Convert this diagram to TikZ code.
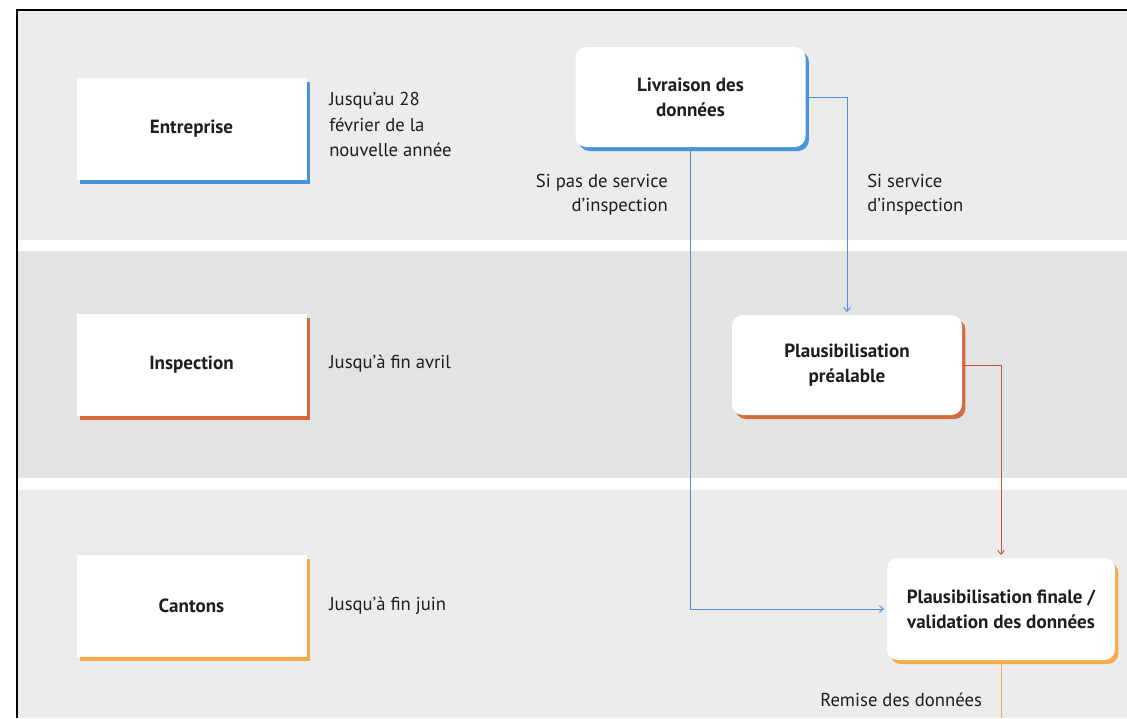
\documentclass[tikz,border=0pt]{standalone}
\usepackage{fontspec}
\setmainfont{PT Sans}
\usetikzlibrary{arrows.meta,shadows}
\definecolor{bandA}{HTML}{EBECEB}
\definecolor{bandB}{HTML}{E2E3E3}
\definecolor{cblue}{HTML}{4A92DC}
\definecolor{cred}{HTML}{D56A3C}
\definecolor{credline}{HTML}{CF4F45}
\definecolor{corange}{HTML}{F7AA48}
\definecolor{ink}{HTML}{1E1E1E}
\begin{document}
\begin{tikzpicture}[x=0.75pt,y=-0.75pt,
  every node/.style={text=ink,font=\fontsize{14}{19.2}\selectfont},
  lanebox/.style={fill=white,minimum width=172.5pt,minimum height=76.5pt,font=\fontsize{14.3}{18.75}\selectfont\bfseries,
    drop shadow={shadow xshift=2.5pt,shadow yshift=-3pt,opacity=1,fill=#1}},
  stepbox/.style={fill=white,rounded corners=8pt,minimum width=172.5pt,minimum height=75pt,align=center,
    font=\fontsize{14.3}{18.75}\selectfont\bfseries,
    drop shadow={shadow xshift=2.5pt,shadow yshift=-3pt,opacity=1,fill=#1}},
  note/.style={align=left,anchor=north west,inner sep=0pt},
  conn/.style={draw=#1,line width=0.7pt,-{Straight Barb[length=3pt,width=5pt]},shorten >=2pt},
]
\useasboundingbox (0,0) rectangle (1127,718);
\fill[white] (0,0) rectangle (1127,718);
% bands
\fill[bandA] (17,10) rectangle (1127,240);
\fill[bandB] (17,251) rectangle (1127,478);
\fill[bandA] (17,490) rectangle (1127,718);
\draw[black,line width=1.6pt] (17,718) -- (17,10) -- (1127,10);
% lane boxes
\node[lanebox=cblue] (ent) at (191.5,129) {Entreprise};
\node[lanebox=cred] (insp) at (191.5,364.5) {Inspection};
\node[lanebox=corange] (cant) at (191.5,606) {Cantons};
% deadlines
\node[note] (d1) at (329,92) {Jusqu’au 28\\février de la\\nouvelle année};
\node[note] (d2) at (329,355) {Jusqu’à fin avril};
\node[note] (d3) at (329,597) {Jusqu’à fin juin};
% process boxes
\node[stepbox=cblue] (liv) at (690.5,97) {Livraison des\\données};
\node[stepbox=cred] (pre) at (847,365) {Plausibilisation\\préalable};
\node[stepbox=corange,minimum width=171pt,minimum height=76.5pt] (fin) at (1001,609) {Plausibilisation finale /\\validation des données};
\coordinate (out) at (1001,718);
% connectors
\draw[conn=cblue] (liv.east) -| (pre.north);
\draw[conn=cblue] (liv.south) |- (fin.west);
\draw[conn=credline] (pre.east) -| (fin.north);
\draw[draw=corange,line width=0.7pt] (fin.south) -- (out);
% labels
\node[align=right,anchor=north east,inner sep=0pt,font=\fontsize{14}{18.2}\selectfont] (l1) at (668,174) {Si pas de service\\d’inspection};
\node[note,font=\fontsize{14}{18.2}\selectfont] (l2) at (867,174) {Si service\\d’inspection};
\node[note] (l3) at (820,693) {Remise des données};
\end{tikzpicture}
\end{document}
